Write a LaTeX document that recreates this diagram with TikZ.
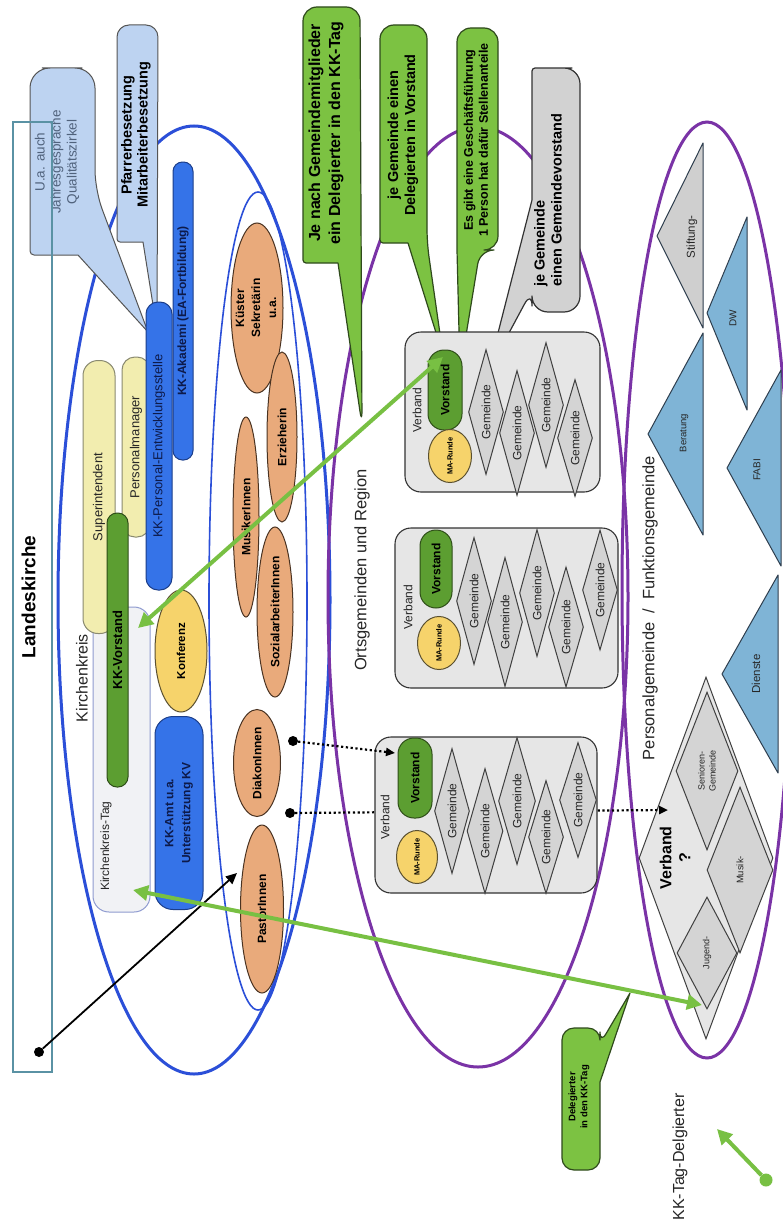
\documentclass[tikz,border=0pt]{standalone}
\usepackage{fontspec}
\setmainfont{Liberation Sans}
\usetikzlibrary{shapes.geometric,arrows.meta}
\newcommand{\myfs}[2]{\fontsize{#1}{#2}\selectfont}
\definecolor{kkblue}{HTML}{2B4FD8}
\definecolor{ogpurple}{HTML}{7A33A6}
\definecolor{lkteal}{HTML}{5A92A4}
\definecolor{callblue}{HTML}{BDD3F1}
\definecolor{calldraw}{HTML}{555555}
\definecolor{callgreen}{HTML}{7CC242}
\definecolor{greendraw}{HTML}{2F4A1C}
\definecolor{vgreen}{HTML}{5C9E31}
\definecolor{vgreendraw}{HTML}{2E4E18}
\definecolor{greenline}{HTML}{78C043}
\definecolor{barblue}{HTML}{3573E8}
\definecolor{bardraw}{HTML}{1C3E8A}
\definecolor{navytext}{HTML}{0D1A4A}
\definecolor{orngfill}{HTML}{E9AA7B}
\definecolor{orngdraw}{HTML}{4A3322}
\definecolor{paleyellow}{HTML}{F2EDAF}
\definecolor{yelldraw}{HTML}{8A8A70}
\definecolor{golden}{HTML}{F6D36B}
\definecolor{golddraw}{HTML}{5A5030}
\definecolor{boxgray}{HTML}{E6E6E6}
\definecolor{boxdraw}{HTML}{333333}
\definecolor{diafill}{HTML}{D4D4D4}
\definecolor{diadraw}{HTML}{404040}
\definecolor{triblue}{HTML}{7FB4D6}
\definecolor{tridraw}{HTML}{2E3E4E}
\definecolor{trigray}{HTML}{CFCFCF}
\definecolor{kktfill}{HTML}{F1F2F5}
\definecolor{kktdraw}{HTML}{8F9BD0}
\definecolor{calltext}{HTML}{50627C}
\definecolor{darktext}{HTML}{262626}
\definecolor{graycall}{HTML}{D2D2D2}

\begin{document}
\begin{tikzpicture}[x=1pt, y=-1pt,
  lbl/.style={rotate=90, inner sep=0pt, align=center, text=darktext},
  region/.style={ellipse, inner sep=0pt, line width=3pt},
  callb/.style={fill=callblue, draw=calldraw, line width=1pt, line join=round},
  callg/.style={fill=callgreen, draw=greendraw, line width=1.2pt, line join=round},
  callgr/.style={fill=graycall, draw=boxdraw, line width=1.2pt, line join=round},
  roundbar/.style={rotate=90, inner sep=0pt, align=center, line width=1pt},
  orell/.style={ellipse, rotate=90, inner sep=0pt, align=center, draw=orngdraw, fill=orngfill, line width=1pt, font=\myfs{12}{16}\bfseries, text=black},
  gem/.style={diamond, aspect=3.5, rotate=90, inner sep=0pt, draw=diadraw, fill=diafill, line width=1pt, minimum width=125pt, minimum height=35pt, font=\myfs{12}{14}, text=darktext},
  vst/.style={rotate=90, inner sep=0pt, draw=vgreendraw, fill=vgreen, rounded corners=16pt, line width=1pt, minimum width=80pt, minimum height=34pt, font=\myfs{12}{14}\bfseries, text=black},
  marunde/.style={ellipse, rotate=90, inner sep=0pt, draw=golddraw, fill=golden, line width=1pt, minimum width=52pt, minimum height=43pt, font=\myfs{7.5}{9}\bfseries, text=black},
  vbox/.style={draw=boxdraw, fill=boxgray, rounded corners=16pt, line width=1.1pt, inner sep=0pt},
  vlab/.style={rotate=90, inner sep=0pt, font=\myfs{12}{14}, text=darktext},
  tri/.style={draw=tridraw, fill=triblue, line width=1pt, line join=round},
  tlab/.style={rotate=90, inner sep=0pt, align=center, text=darktext},
  blackdot/.style={circle, fill=black, inner sep=0pt, minimum size=10pt},
  garrow/.style={draw=greenline, line width=4pt, arrows={Triangle[length=15pt,width=15pt]-Triangle[length=15pt,width=15pt]}},
  dotarrow/.style={draw=black, line width=2.2pt, dash pattern=on 2.2pt off 2.6pt, arrows={-Triangle[length=9pt,width=8pt]}},
]
\useasboundingbox (0,0) rectangle (783,1231);
\fill[white] (0,0) rectangle (783,1231);

% ---------- region ellipses ----------
\node[region, draw=kkblue, minimum width=272pt, minimum height=948pt] (kkell) at (194,600) {};
\node[ellipse, inner sep=0pt, draw=kkblue, line width=1.6pt, minimum width=98pt, minimum height=818pt] (staffell) at (258,601) {};
\node[region, draw=ogpurple, minimum width=300pt, minimum height=940pt] (ogell) at (478,597) {};
\node[region, draw=ogpurple, minimum width=170pt, minimum height=936pt] (pgell) at (707,590) {};

% ---------- callouts ----------
\draw[callb] (62,68) [rounded corners=20pt] -- (95,68) -- (95,190) [sharp corners] -- (148,332) -- (78,255) [rounded corners=4pt] -- (30,255) [rounded corners=20pt] -- (30,68) -- cycle;
\node[lbl, text=calltext, font=\myfs{13.5}{16}] (uatext) at (57,162) {U.a. auch\\Jahresgespräche\\Qualitätszirkel};

\draw[callb] (117,130) [rounded corners=12pt] -- (117,25) -- (158,25) -- (157,330) [sharp corners] -- (143,242) [rounded corners=3pt] -- (117,242) [rounded corners=12pt] -- cycle;
\node[lbl, text=black, font=\myfs{14.5}{16}\bfseries] (pftext) at (136,135) {Pfarrerbesetzung\\Mitarbeiterbesetzung};

\draw[callg] (303,130) [rounded corners=14pt] -- (303,7) -- (360,7) -- (362,425) [sharp corners] -- (338,263) [rounded corners=3pt] -- (303,263) [rounded corners=14pt] -- cycle;
\node[lbl, text=black, font=\myfs{16}{20}\bfseries] (jntext) at (326,133) {Je nach Gemeindemitglieder\\ein Delegierter in den KK-Tag};

\draw[callg] (380,130) [rounded corners=14pt] -- (380,25) -- (427,25) -- (427,243) [rounded corners=3pt] -- (443,355) [sharp corners] -- (408,243) [rounded corners=3pt] -- (380,243) [rounded corners=14pt] -- cycle;
\node[lbl, text=black, font=\myfs{14.5}{17}\bfseries] (dvtext) at (403,135) {je Gemeinde einen\\Delegierten in Vorstand};

\draw[callg] (457,130) [rounded corners=14pt] -- (457,28) -- (498,28) -- (498,250) -- (480,250) [rounded corners=3pt] -- (460,372) [sharp corners] -- (457,250) [rounded corners=3pt] -- cycle;
\node[lbl, text=black, font=\myfs{12.5}{15}\bfseries] (egtext) at (476,140) {Es gibt eine Geschäftsführung\\1 Person hat dafür Stellenanteile};

\draw[callgr] (556,68) [rounded corners=16pt] -- (580,68) -- (580,312) -- (532,312) -- (532,290) [rounded corners=3pt] -- (488,372) [sharp corners] -- (532,200) [rounded corners=3pt] -- (532,68) [rounded corners=16pt] -- cycle;
\node[lbl, align=left, text=black, font=\myfs{14.5}{17}\bfseries] (gvtext) at (548,200) {je Gemeinde\\einen Gemeindevorstand};

\draw[callg] (562,1100) [rounded corners=12pt] -- (562,1028) -- (600,1028) -- (600,1044) [sharp corners] -- (630,993) -- (600,1082) [rounded corners=12pt] -- (600,1170) -- (562,1170) -- cycle;
\node[lbl, text=black, font=\myfs{9.5}{12}\bfseries] (dktext) at (579,1097) {Delegierter\\in den KK-Tag};

% ---------- Landeskirche ----------
\node[draw=lkteal, line width=2pt, minimum width=39pt, minimum height=950pt, inner sep=0pt] (lk) at (32.5,597) {};
\node[lbl, text=black, font=\myfs{19}{22}\bfseries] (lktitle) at (28.5,597) {Landeskirche};

% ---------- Kirchenkreis ----------
\node[lbl, font=\myfs{16}{19}] (kktitle) at (82,678) {Kirchenkreis};
\node[roundbar, draw=kktdraw, fill=kktfill, rounded corners=16pt, minimum width=305pt, minimum height=57pt] (kkt) at (121.5,759.5) {};
\node[lbl, font=\myfs{12}{14}] (kktlabel) at (106,846) {Kirchenkreis-Tag};

\node[roundbar, draw=yelldraw, fill=paleyellow, rounded corners=15pt, minimum width=273pt, minimum height=32pt, font=\myfs{13}{15}, text=darktext] (sup) at (99,497) {Superintendent};
\node[roundbar, draw=yelldraw, fill=paleyellow, rounded corners=13pt, minimum width=180pt, minimum height=28pt, font=\myfs{13}{15}, text=darktext] (pm) at (136,447) {Personalmanager};
\node[roundbar, draw=bardraw, fill=barblue, rounded corners=12pt, minimum width=288pt, minimum height=26pt, font=\myfs{13}{15}, text=navytext] (kkpe) at (159,446) {KK-Personal-Entwicklungsstelle};
\node[roundbar, draw=bardraw, fill=barblue, rounded corners=9.5pt, minimum width=298pt, minimum height=20pt, font=\myfs{12}{14}\bfseries, text=navytext] (kkak) at (183,311) {KK-Akademi (EA-Fortbildung)};
\node[roundbar, draw=vgreendraw, fill=vgreen, rounded corners=10pt, minimum width=274pt, minimum height=21pt, font=\myfs{13}{15}\bfseries, text=black] (kkv) at (117.5,650) {KK-Vorstand};
\node[roundbar, draw=bardraw, fill=barblue, rounded corners=18pt, minimum width=193pt, minimum height=48pt, font=\myfs{12}{17}\bfseries, text=navytext] (kkamt) at (179,813) {KK-Amt u.a.\\Unterstützung KV};
\node[ellipse, rotate=90, inner sep=0pt, draw=golddraw, fill=golden, line width=1pt, minimum width=122pt, minimum height=52pt, font=\myfs{11.5}{14}\bfseries, text=black] (konf) at (181,651) {Konferenz};

% staff ellipses
\node[orell, minimum width=170pt, minimum height=52pt] (kuester) at (257,308) {};
\node[lbl, text=black, font=\myfs{12}{16}\bfseries] (kuestertext) at (256,308) {Küster\\Sekretärin\\u.a.};
\node[orell, minimum width=170pt, minimum height=30pt] (erz) at (282,437) {Erzieherin};
\node[orell, minimum width=200pt, minimum height=26pt] (musik) at (246,517) {MusikerInnen};
\node[orell, minimum width=170pt, minimum height=36pt] (sozial) at (275,612) {SozialarbeiterInnen};
\node[orell, minimum width=107pt, minimum height=47pt] (diakon) at (257,763) {DiakonInnen};
\node[orell, minimum width=168pt, minimum height=43pt] (pastor) at (262,909) {PastorInnen};

% ---------- region titles ----------
\node[lbl, font=\myfs{16.5}{19}] (ogtitle) at (362,570) {Ortsgemeinden und Region};
\node[lbl, font=\myfs{16.5}{19}] (pgtitle) at (650,608) {Personalgemeinde\hspace{9pt}/\hspace{9pt}Funktionsgemeinde};
\node[lbl, font=\myfs{16}{19}] (legtext) at (680,1157) {KK-Tag-Delgierter};

% ---------- Personalgemeinde / Funktionsgemeinde ----------
\draw[tri, fill=trigray] (703,143) -- (657,236) -- (703,328) -- cycle;
\node[tlab, font=\myfs{11.5}{13}] (stift) at (692,237) {Stiftung-};
\draw[tri] (703,333) -- (648,434) -- (703,535) -- cycle;
\node[tlab, font=\myfs{9.5}{12}] (berat) at (684,433) {Beratung};
\draw[tri] (747,217) -- (707,313) -- (747,410) -- cycle;
\node[tlab, font=\myfs{10}{12}] (dw) at (733,318) {DW};
\draw[tri] (781,370) -- (727,468) -- (781,566) -- cycle;
\node[tlab, font=\myfs{10}{12}] (fabi) at (757,470) {FABI};
\draw[tri] (778,575) -- (722,674) -- (778,773) -- cycle;
\node[tlab, font=\myfs{11.5}{13}] (dienste) at (756,674) {Dienste};

\node[diamond, rotate=90, inner sep=0pt, draw=diadraw, fill=boxgray, line width=1pt, minimum width=362pt, minimum height=134pt] (bigdia) at (706,858) {};
\node[diamond, aspect=2.5, rotate=90, inner sep=0pt, draw=diadraw, fill=diafill, line width=1pt, minimum width=158pt, minimum height=62pt, align=center, font=\myfs{9}{11}, text=darktext] (senioren) at (707,771) {Senioren-\\Gemeinde};
\node[diamond, aspect=2.5, rotate=90, inner sep=0pt, draw=diadraw, fill=diafill, line width=1pt, minimum width=166pt, minimum height=66pt, font=\myfs{9.5}{11}, text=darktext] (musikg) at (740,870) {Musik-};
\node[diamond, aspect=2.5, rotate=90, inner sep=0pt, draw=diadraw, fill=diafill, line width=1pt, minimum width=112pt, minimum height=60pt, font=\myfs{9}{11}, text=darktext] (jugend) at (707,953) {Jugend-};
\node[lbl, text=black, font=\myfs{16}{19}\bfseries] (verbq) at (675,858) {Verband\\?};

% ---------- dots and dotted connectors (behind Verband boxes) ----------
\node[blackdot] (dot1) at (39,1052) {};
\node[blackdot] (dot2) at (293,741) {};
\node[blackdot] (dot3) at (290,813) {};
\draw[dotarrow] (dot3) -- ([shift={(-38,-48)}]bigdia.center);

% ---------- Verband boxes ----------
% right (upper) Verband
\node[vbox, minimum width=195pt, minimum height=160pt] (vr) at (502.5,412) {};
\node[vlab] (vrlab) at (417,410) {Verband};
\node[vst] (vrv) at (445,390) {Vorstand};
\node[marunde] (vrma) at (450,456) {MA-Runde};
\node[gem] (vrg1) at (486,412) {Gemeinde};
\node[gem] (vrg2) at (517,433) {Gemeinde};
\node[gem] (vrg3) at (546,405) {Gemeinde};
\node[gem, minimum width=117pt] (vrg4) at (575,438) {Gemeinde};

% middle Verband
\node[vbox, minimum width=223pt, minimum height=160pt] (vm) at (506.5,608) {};
\node[vlab] (vmlab) at (408,607) {Verband};
\node[vst, minimum width=78pt, minimum height=32pt] (vmv) at (436,569) {Vorstand};
\node[marunde] (vmma) at (439,643) {MA-Runde};
\node[gem, minimum width=127pt] (vmg1) at (474,601) {Gemeinde};
\node[gem, minimum width=129pt] (vmg2) at (505,622) {Gemeinde};
\node[gem, minimum width=127pt] (vmg3) at (537,593) {Gemeinde};
\node[gem, minimum width=120pt] (vmg4) at (566,627) {Gemeinde};
\node[gem, minimum width=120pt] (vmg5) at (600,590) {Gemeinde};

% left (lower) Verband
\node[vbox, minimum width=222pt, minimum height=156pt] (vl) at (486,815) {};
\node[vlab] (vllab) at (385,817) {Verband};
\node[vst] (vlv) at (415,778) {Vorstand};
\node[marunde, minimum height=41pt] (vlma) at (417,857) {MA-Runde};
\node[gem] (vlg1) at (452,811) {Gemeinde};
\node[gem, minimum height=36pt] (vlg2) at (485,831) {Gemeinde};
\node[gem, minimum width=127pt, minimum height=37pt] (vlg3) at (517,801) {Gemeinde};
\node[gem, minimum width=113pt] (vlg4) at (546,837) {Gemeinde};
\node[gem, minimum width=115pt, minimum height=37pt] (vlg5) at (578,800) {Gemeinde};

% ---------- connectors ----------
\draw[dotarrow] (dot2) -- ([shift={(-20,-25)}]vlv.center);
\draw[black, line width=1.8pt, arrows={-Triangle[length=11pt,width=10pt]}] (dot1) -- ([shift={(-25,-36)}]pastor.center);
\draw[garrow] ([shift={(-2,-33)}]vrv.center) -- ([shift={(20.5,-22)}]kkv.center);
\draw[garrow] ([shift={(11.5,130.5)}]kkt.center) -- ([shift={(-5,52)}]jugend.center);

% legend
\node[circle, fill=greenline, inner sep=0pt, minimum size=13pt] (legdot) at (766,1180) {};
\coordinate (legtip) at (717,1129);
\draw[draw=greenline, line width=4pt, arrows={-Triangle[length=15pt,width=15pt]}] (legdot) -- (legtip);
\end{tikzpicture}
\end{document}
